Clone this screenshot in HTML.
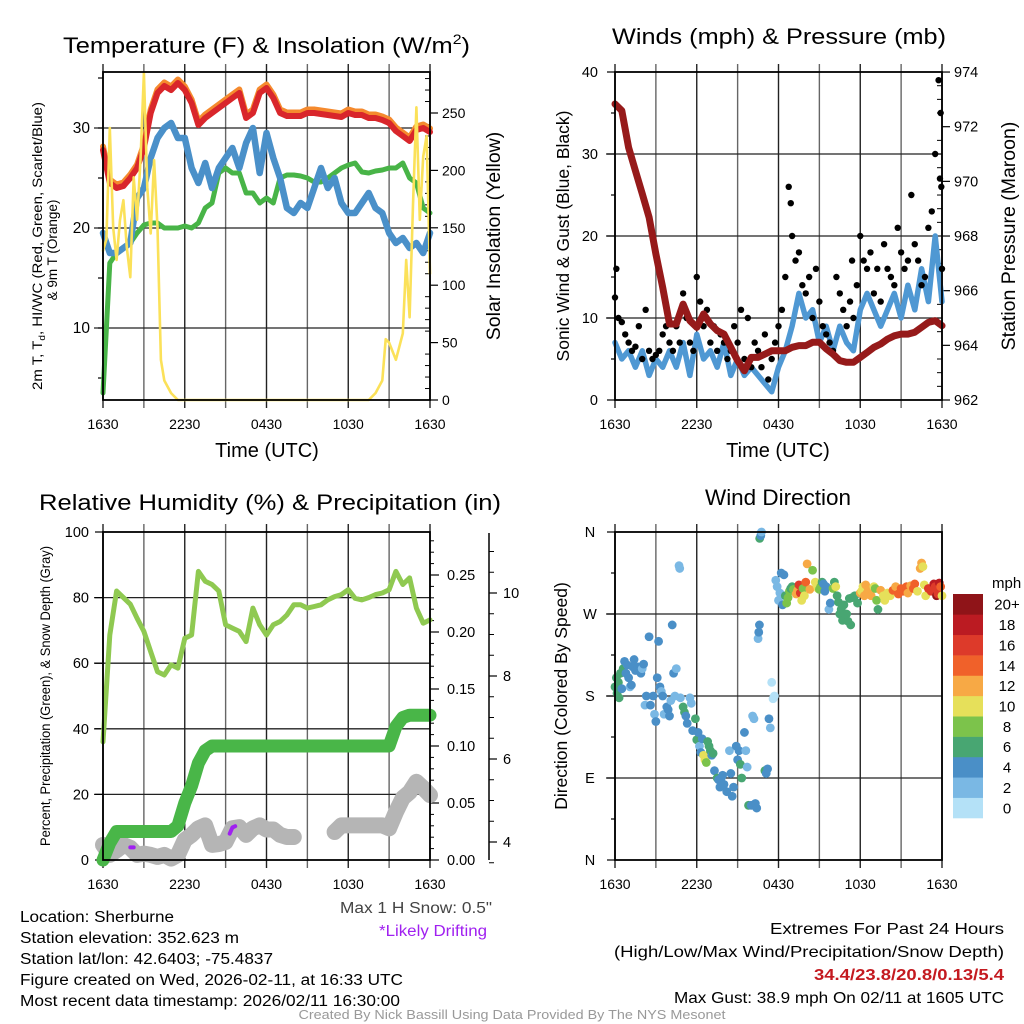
<!DOCTYPE html>
<html><head><meta charset="utf-8"><title>Mesonet Meteogram</title>
<style>
html,body{margin:0;padding:0;background:#fff;}
svg{display:block;font-family:"Liberation Sans",Arial,sans-serif;}
</style></head>
<body>
<svg id="chart" xmlns="http://www.w3.org/2000/svg" width="1024" height="1024" viewBox="0 0 1024 1024">
<rect x="0" y="0" width="1024" height="1024" fill="#fff"/>
<text x="63" y="53" font-size="22.5" text-anchor="start" textLength="407" lengthAdjust="spacingAndGlyphs">Temperature (F) &amp; Insolation (W/m<tspan font-size="14" dy="-9">2</tspan><tspan dy="9">)</tspan></text>
<text x="779" y="44" font-size="22.5" text-anchor="middle" textLength="334" lengthAdjust="spacingAndGlyphs">Winds (mph) &amp; Pressure (mb)</text>
<text x="270" y="510" font-size="22.5" text-anchor="middle" textLength="462" lengthAdjust="spacingAndGlyphs">Relative Humidity (%) &amp; Precipitation (in)</text>
<text x="778" y="505" font-size="22.5" text-anchor="middle" textLength="146" lengthAdjust="spacingAndGlyphs">Wind Direction</text>
<text x="267" y="457" font-size="20" text-anchor="middle">Time (UTC)</text>
<text x="778" y="457" font-size="20" text-anchor="middle">Time (UTC)</text>
<text transform="translate(42,246) rotate(-90)" font-size="13.5" text-anchor="middle" textLength="288" lengthAdjust="spacingAndGlyphs">2m T, T<tspan font-size="9" dy="3">d</tspan><tspan dy="-3">, HI/WC (Red, Green, Scarlet/Blue)</tspan></text>
<text transform="translate(57,250) rotate(-90)" font-size="13.5" text-anchor="middle">&amp; 9m T (Orange)</text>
<text transform="translate(500,236) rotate(-90)" font-size="19.5" text-anchor="middle">Solar Insolation (Yellow)</text>
<text transform="translate(569,236) rotate(-90)" font-size="17.5" text-anchor="middle">Sonic Wind &amp; Gust (Blue, Black)</text>
<text transform="translate(1015,236) rotate(-90)" font-size="19.5" text-anchor="middle">Station Pressure (Maroon)</text>
<text transform="translate(50,696) rotate(-90)" font-size="13.5" text-anchor="middle" textLength="300" lengthAdjust="spacingAndGlyphs">Percent, Precipitation (Green), &amp; Snow Depth (Gray)</text>
<text transform="translate(567,696) rotate(-90)" font-size="17.5" text-anchor="middle">Direction (Colored By Speed)</text>
<text x="992" y="588" font-size="15">mph</text>
<g font-size="15.5">
<text x="20" y="922" textLength="154" lengthAdjust="spacingAndGlyphs">Location: Sherburne</text>
<text x="20" y="943" textLength="219" lengthAdjust="spacingAndGlyphs">Station elevation: 352.623 m</text>
<text x="20" y="964" textLength="253" lengthAdjust="spacingAndGlyphs">Station lat/lon: 42.6403; -75.4837</text>
<text x="20" y="985" textLength="383" lengthAdjust="spacingAndGlyphs">Figure created on Wed, 2026-02-11, at 16:33 UTC</text>
<text x="20" y="1006" textLength="380" lengthAdjust="spacingAndGlyphs">Most recent data timestamp: 2026/02/11 16:30:00</text>
</g>
<text x="492" y="913" font-size="15.5" fill="#444" text-anchor="end" textLength="152" lengthAdjust="spacingAndGlyphs">Max 1 H Snow: 0.5"</text>
<text x="487" y="936" font-size="15.5" fill="#a020f0" text-anchor="end" textLength="108" lengthAdjust="spacingAndGlyphs">*Likely Drifting</text>
<g font-size="16" text-anchor="end">
<text x="1004" y="934" textLength="234" lengthAdjust="spacingAndGlyphs">Extremes For Past 24 Hours</text>
<text x="1004" y="957" textLength="390" lengthAdjust="spacingAndGlyphs">(High/Low/Max Wind/Precipitation/Snow Depth)</text>
<text x="1004" y="980" fill="#c41a20" font-weight="bold" textLength="190" lengthAdjust="spacingAndGlyphs">34.4/23.8/20.8/0.13/5.4</text>
<text x="1004" y="1003" textLength="330" lengthAdjust="spacingAndGlyphs">Max Gust: 38.9 mph On 02/11 at 1605 UTC</text>
</g>
<text x="512" y="1019" font-size="12.5" fill="#999" text-anchor="middle" textLength="427" lengthAdjust="spacingAndGlyphs">Created By Nick Bassill Using Data Provided By The NYS Mesonet</text>
</svg>
<script>
// ---------- DATA ----------
const xTickLabels = ["1630","2230","0430","1030","1630"];
const xTickHours = [0,6,12,18,24];
const tempTicks = [10,20,30];
const solarTicks = [0,50,100,150,200,250];
const windTicks = [0,10,20,30,40];
const presTicks = [962,964,966,968,970,972,974];
const rhTicks = [0,20,40,60,80,100];
const precipTicks = ["0.00","0.05","0.10","0.15","0.20","0.25"];
const snowTicks = [4,6,8,10];
const dirTickLabels = ["N","W","S","E","N"];
const dirTickDeg = [360,270,180,90,0];
const speedBinLabels = ["0","2","4","6","8","10","12","14","16","18","20+"];
const speedBinColors = ["#b4e1f7","#7ab8e4","#4a8fc7","#48a672","#7cc34b","#e6e05a","#f7a945","#f0612a","#dd3a2a","#bb1b22","#8f1418"];

const tempRed = [27.8,24.5,24,24.2,25,26,28,31.5,33.5,34.2,33.8,34.5,33.8,32.5,30.3,31,31.5,32,32.5,33,33.5,31,31.5,33.5,34,33,31.5,31.2,31.2,31.2,31.5,31.5,31.4,31.3,31.2,31.1,31.5,31.3,31.3,31,31,30.8,30.5,29.7,29.2,28.7,29.8,30,29.6];
const tempBlue = [19.5,17.5,17.5,18,18.5,23,24,27,29,30,30.5,29,29,26,24.5,26.5,24,26,27,28,26,28.5,30,25.5,29.5,27,25,22,21.5,22.5,22,24,26,24,25,22.5,21.5,21.5,22.5,23.5,22,21.5,19.5,18.5,19,18,18.5,17.5,19.5];
const tempGreen = [3.5,16.5,17.5,18,18.5,19.5,20.3,20.5,20.5,20,20,20,20.2,20,20.5,22,22.5,25.5,26,25.5,25.5,23.5,23.5,22.5,23,22.5,25,25.3,25.3,25.2,25,24.6,24.6,25,25.5,26,26.3,26.5,25.6,25.5,25.7,25.8,26,26,26.5,25,24.5,22,21.5];
const solarT = [0,0.25,0.5,0.75,1,1.25,1.5,1.75,2,2.25,2.5,2.75,3,3.25,3.5,3.75,4,4.25,4.5,5,5.5,6,19.5,20,20.5,20.75,21,21.5,22,22.25,22.5,22.75,23,23.25,23.5,23.75,24];
const solarV = [130,140,237,150,122,157,174,133,107,194,157,209,285,185,145,209,150,35,17,6,0,0,0,6,17,53,50,35,58,122,72,170,255,157,212,230,110];
const windBlue = [7,5,6,4,6,3,5,4,6,4,7,3,8,5,6,4,7,3,5,3,4,3,2,1,4,6,9,13,10,11,7,9,6,9,7,6,11,13,11,9,11,13,10,14,11,16,12,20,12];
const pressure = [972.83,972.59,971.24,970.39,969.54,968.68,967.34,966.12,964.78,964.78,965.51,964.9,964.66,965.15,964.78,964.54,964.41,963.93,963.44,963.07,963.56,963.56,963.68,963.8,963.8,963.8,963.93,963.99,963.99,964.11,964.11,963.87,963.68,963.44,963.38,963.38,963.56,963.74,963.93,964.05,964.23,964.35,964.41,964.41,964.48,964.66,964.84,964.9,964.72];
const gusts = [12.5,10,9.5,8,7,6,6.5,9,5,11,6,5,5.5,6,8,9,7,6,9,7,13,10,7,6,15,12,9,11,7,9,6,8,7,5,6,9,7,11,5,10,4,7,6,4,8,2.5,5,7,9,11,15,26,20,17,18,14,13,15,10,16,12,9,8,7,6,15,13,11,9,12,10,14,20,17,16,18,13,16,12,19,16,15,14,21,18,16,17,25,19,17,14,15,21,23,30,39,16];
const gustExtraT = [23.85,23.9,23.95,0.1,12.9,17.4];
const gustExtraV = [27,35,26,16,24,17];
const rh = [36,68.6,82,80,78,73.7,69.7,63.5,57.4,56.4,59.5,58.5,67.6,68.6,88,85,84,82,71.7,70.7,69.7,66.6,76.8,71.7,68.6,71.7,72.7,74.7,77.8,77.8,76.8,77.3,77.8,79.3,80.3,80.9,82.4,79.8,79.3,80,80.9,81.4,82.4,88,84,86,76.8,72.2,73.2];
const precip = [0,0.015,0.025,0.025,0.025,0.025,0.025,0.025,0.025,0.025,0.025,0.03,0.05,0.065,0.085,0.096,0.1,0.1,0.1,0.1,0.1,0.1,0.1,0.1,0.1,0.1,0.1,0.1,0.1,0.1,0.1,0.1,0.1,0.1,0.1,0.1,0.1,0.1,0.1,0.1,0.1,0.1,0.1,0.117,0.125,0.127,0.127,0.127,0.127];
const snow = [3.93,3.69,3.8,3.93,3.86,3.69,3.72,3.69,3.64,3.69,3.6,3.69,4.05,4.17,4.33,4.4,3.93,3.95,4.0,4.33,4.36,4.17,4.33,4.4,4.3,4.3,4.17,4.12,4.12,null,null,null,null,null,4.24,4.4,4.4,4.4,4.4,4.4,4.4,4.4,4.33,4.72,5.06,5.2,5.45,5.3,5.13];
const driftT1 = [2.0,2.25];
const driftV1 = [3.87,3.87];
const driftT2 = [9.3,9.5,9.7];
const driftV2 = [4.2,4.35,4.38];
const dirT = [0.0,0.1,0.15,0.25,0.3,0.4,0.5,0.6,0.7,0.8,0.9,1.0,1.1,1.2,1.3,1.4,1.5,1.7,1.9,2.0,2.1,2.2,2.3,2.5,2.6,2.8,2.9,3.0,3.1,3.2,3.3,3.4,3.5,3.6,3.8,3.9,4.0,4.1,4.2,4.3,4.4,4.5,4.7,4.75,4.8,5.0,5.1,5.2,5.3,5.5,5.6,5.7,5.9,6.0,6.1,6.2,6.3,6.4,6.5,6.6,6.7,6.8,6.9,7.0,7.1,7.2,7.3,7.5,7.6,7.7,7.8,7.9,8.0,8.2,8.4,8.5,8.6,8.7,8.9,9.0,9.1,9.2,9.3,9.5,9.6,9.7,9.8,10.0,10.1,10.2,10.3,10.4,10.5,10.55,10.6,10.62,10.7,10.75,11.0,11.1,11.2,11.3,11.4,11.5,11.6,11.7,11.8,11.9,12.0,12.1,12.2,12.3,12.4,12.5,12.6,12.7,12.8,12.9,13.0,13.1,13.3,13.4,13.5,13.6,13.7,13.8,13.9,14.0,14.1,14.3,14.5,14.7,14.8,14.9,15.0,15.1,15.2,15.3,15.4,15.5,15.7,15.8,16.0,16.1,16.2,16.3,16.4,16.5,16.6,16.7,16.8,16.9,17.0,17.1,17.2,17.3,17.4,17.6,17.8,18.0,18.1,18.2,18.3,18.4,18.5,18.6,18.8,19.0,19.1,19.2,19.3,19.5,19.7,19.8,20.0,20.2,20.4,20.6,20.8,21.0,21.2,21.4,21.5,21.7,21.9,22.0,22.2,22.4,22.5,22.6,22.7,22.8,23.0,23.2,23.4,23.5,23.6,23.7,23.8,23.9,24.0];
const dirDeg = [190,200,183,195,178,205,188,210,218,205,214,200,190,192,212,220,208,212,205,210,215,170,180,245,170,180,160,152,200,240,190,185,180,160,168,165,158,175,258,205,180,210,323,320,178,168,162,158,150,178,172,142,155,132,140,125,118,133,115,110,107,130,125,120,115,117,98,90,88,80,90,93,83,75,120,95,70,80,125,110,120,105,90,140,120,102,60,60,158,155,62,57,243,250,258,353,356,360,98,95,100,155,145,195,177,180,307,300,285,293,315,280,313,290,282,288,295,298,300,297,292,296,302,293,285,298,290,305,325,297,318,305,302,298,297,300,305,303,295,300,275,282,298,305,300,290,283,270,275,263,280,270,270,262,287,258,288,290,282,293,295,300,290,302,293,297,290,300,298,285,275,296,290,285,293,290,296,300,292,298,295,300,293,301,298,303,295,320,326,322,302,290,298,295,303,300,290,292,304,300,290];
const dirSpd = [7,6,7,6,6,7,5,7,5,4,4,4,3,4,4,5,4,4,4,3,4,3,4,4,4,4,3,4,4,4,4,3,4,3,4,4,4,2,4,4,2,3,2,2,3,6,6,4,4,3,2,4,6,6,4,3,4,4,10,10,8,6,7,6,4,6,4,6,4,4,4,4,4,4,2,4,4,4,4,4,4,7,6,4,3,3,6,4,3,2,4,4,3,4,4,6,4,2,7,4,4,4,2,1,1,1,2,2,2,3,4,4,4,7,8,8,8,6,7,9,13,12,16,17,10,9,10,15,12,12,8,10,11,10,9,8,6,4,4,5,3,4,8,7,10,6,6,6,6,6,6,7,6,6,7,6,6,7,6,12,10,10,13,12,12,12,12,10,8,8,7,12,10,10,11,10,14,12,14,15,14,14,13,12,15,15,10,12,12,10,10,10,17,17,18,16,20,16,18,14,10];

// ---------- HELPERS ----------
const NS="http://www.w3.org/2000/svg";
const svg=document.getElementById('chart');
function mk(tag, attrs, parent){const e=document.createElementNS(NS,tag);for(const k in attrs)e.setAttribute(k,attrs[k]);(parent||svg).appendChild(e);return e;}
function group(){return mk('g',{});}

const P1={x0:103,x1:430,y0:72,y1:400};
const P2={x0:615,x1:942,y0:72,y1:400};
const P3={x0:103,x1:430,y0:532,y1:860};
const P4={x0:615,x1:942,y0:532,y1:860};
function xs(P,h){return P.x0+(P.x1-P.x0)*h/24;}
const yTemp=v=>400-(v-2.8)*10;
const ySolar=v=>400-v*1.148;
const yWind=v=>400-v*8.2;
const yPres=v=>400-(v-962)*27.33;
const yRH=v=>860-v*3.28;
const yPrecip=v=>860-v*1140;
const ySnow=v=>842-(v-4)*41.5;
const yDir=d=>860-d/360*328;

function pathFrom(P,ts,vals,yf){let d='',pen=false;for(let i=0;i<vals.length;i++){const v=vals[i];if(v===null||v===undefined){pen=false;continue;}d+=(pen?'L':'M')+xs(P,ts[i]).toFixed(1)+','+yf(v).toFixed(1);pen=true;}return d;}
const halfHours=rh.map((_,i)=>i*0.5);

function frame(P,name){
  const g=group();
  
  
  for(let h=0;h<=24;h+=3){const x=xs(P,h);
    const l=mk('line',{x1:x,y1:P.y0-8,x2:x,y2:P.y1+8,stroke:(h%6===0)?'#222':'#666','stroke-width':1.4},g);
    
    }
  return g;
}
function hgrid(P,name,ys){const g=group();
  
  
  ys.forEach(y=>{const l=mk('line',{x1:P.x0-9,y1:y,x2:P.x1,y2:y,stroke:'#222','stroke-width':1.3},g);
    
    });}
function box(P,name){const r=mk('rect',{x:P.x0,y:P.y0,width:P.x1-P.x0,height:P.y1-P.y0,fill:'none',stroke:'#000','stroke-width':1.8});
  
  }
function xLabels(P,name){xTickHours.forEach((h,i)=>{const t=mk('text',{x:xs(P,h),y:P.y1+29,'font-size':14,'text-anchor':'middle'});t.textContent=xTickLabels[i];
  
  });}
function yLabel(x,y,txt,anchor,name,size){const t=mk('text',{x:x,y:y+5,'font-size':size||15,'text-anchor':anchor});t.textContent=txt;
  
  return t;}
function tick(x1,y1,x2,y2,name,w){const l=mk('line',{x1,y1,x2,y2,stroke:'#000','stroke-width':w||1.2});
  
  }
function line(d,color,w,name,extra){const p=mk('path',Object.assign({d:d,fill:'none',stroke:color,'stroke-width':w,'stroke-linejoin':'round','stroke-linecap':'round'},extra||{}));
  
  return p;}

// ---------- PANEL 1 ----------
frame(P1,'temp');
hgrid(P1,'temp',tempTicks.map(yTemp));
tempTicks.forEach(v=>yLabel(P1.x0-13,yTemp(v),String(v),'end','temp-y-tick-label',15.5));
for(let v=5;v<=35;v+=5){tick(P1.x0-5,yTemp(v),P1.x0,yTemp(v),'temp-minor-tick');}
solarTicks.forEach(v=>{tick(P1.x1,ySolar(v),P1.x1+8,ySolar(v),'solar-major-tick');yLabel(P1.x1+12,ySolar(v),String(v),'start','solar-y-tick-label',14);});
for(let v=0;v<=280;v+=10){if(v%50)tick(P1.x1-5,ySolar(v),P1.x1,ySolar(v),'solar-minor-tick',1);}
line(pathFrom(P1,halfHours,tempRed.map(v=>v+0.35),yTemp),'#f58a2e',6,'series-9m-temp-orange');
line(pathFrom(P1,halfHours,tempRed,yTemp),'#d9262b',6,'series-2m-temp-red');
line(pathFrom(P1,halfHours,tempGreen,yTemp),'#48b447',5,'series-dewpoint-green');
line(pathFrom(P1,halfHours,tempBlue,yTemp),'#4a90c9',6.5,'series-windchill-blue');
line(pathFrom(P1,solarT,solarV,ySolar),'#fbe159',2.6,'series-solar-yellow');
box(P1,'temp');
xLabels(P1,'temp');

// ---------- PANEL 2 ----------
frame(P2,'wind');
hgrid(P2,'wind',[10,20,30].map(yWind));
windTicks.forEach(v=>{tick(P2.x0-8,yWind(v),P2.x0,yWind(v),'wind-major-tick');yLabel(P2.x0-17,yWind(v),String(v),'end','wind-y-tick-label',14.5);});
for(let v=5;v<40;v+=10)tick(P2.x0-4,yWind(v),P2.x0,yWind(v),'wind-minor-tick');
presTicks.forEach(v=>{tick(P2.x1,yPres(v),P2.x1+8,yPres(v),'pressure-major-tick');yLabel(P2.x1+12,yPres(v),String(v),'start','pressure-y-tick-label',14.5);});
for(let v=962.5;v<974;v+=0.5){if((v*2)%4)tick(P2.x1-5,yPres(v),P2.x1,yPres(v),'pressure-minor-tick',1);}
line(pathFrom(P2,halfHours,windBlue,yWind),'#4f98d3',5.5,'series-sonic-wind-blue');
{const g=group();
 
 
 gusts.forEach((v,i)=>{const c=mk('circle',{cx:xs(P2,i*0.25),cy:yWind(v),r:3.2,fill:'#000'},g);
  
  });
 gustExtraT.forEach((t,i)=>{const c=mk('circle',{cx:xs(P2,t),cy:yWind(gustExtraV[i]),r:3.2,fill:'#000'},g);
  
  });}
line(pathFrom(P2,halfHours,pressure,yPres),'#961a1a',7,'series-pressure-maroon');
box(P2,'wind');
xLabels(P2,'wind');

// ---------- PANEL 3 ----------
frame(P3,'rh');
hgrid(P3,'rh',[20,40,60,80].map(yRH));
rhTicks.forEach(v=>{tick(P3.x0-8,yRH(v),P3.x0,yRH(v),'rh-major-tick');yLabel(P3.x0-14,yRH(v),String(v),'end','rh-y-tick-label',14.5);});
precipTicks.forEach(s=>{const v=parseFloat(s);tick(P3.x1,yPrecip(v),P3.x1+9,yPrecip(v),'precip-major-tick');yLabel(P3.x1+17,yPrecip(v),s,'start','precip-y-tick-label',14.5);});
for(let k=1;k<29;k++){if(k%5)tick(P3.x1,yPrecip(k*0.01),P3.x1+4,yPrecip(k*0.01),'precip-minor-tick',1);}
tick(489,533,489,860,'snow-axis-line',1.5);
snowTicks.forEach(v=>{tick(489,ySnow(v),497,ySnow(v),'snow-major-tick');yLabel(503,ySnow(v),String(v),'start','snow-y-tick-label',14.5);});
for(let v=3.5;v<=11.4;v+=0.5){if(v%2)tick(489,ySnow(v),494,ySnow(v),'snow-minor-tick',1);}
line(pathFrom(P3,halfHours,snow,ySnow),'#b5b5b5',16,'series-snow-depth-gray');
line(pathFrom(P3,driftT1,driftV1,ySnow),'#a020f0',4,'series-drifting-purple-1');
line(pathFrom(P3,driftT2,driftV2,ySnow),'#a020f0',4,'series-drifting-purple-2');
line(pathFrom(P3,halfHours,precip,yPrecip),'#49b648',13,'series-precip-green');
line(pathFrom(P3,halfHours,rh,yRH),'#8fc951',5,'series-rh-green');
box(P3,'rh');
xLabels(P3,'rh');

// ---------- PANEL 4 ----------
frame(P4,'dir');
hgrid(P4,'dir',[270,180,90].map(yDir));
dirTickDeg.forEach((d,i)=>{tick(P4.x0-8,yDir(d),P4.x0,yDir(d),'dir-major-tick');yLabel(590,yDir(d),dirTickLabels[i],'middle','dir-y-tick-label',14.5);});
[315,225,135,45].forEach(d=>tick(P4.x0-4,yDir(d),P4.x0,yDir(d),'dir-minor-tick'));
function spdColor(s){return speedBinColors[Math.min(10,Math.floor(s/2))];}
{const g=group();
 
 
 dirT.forEach((t,i)=>{const c=mk('circle',{cx:xs(P4,t),cy:yDir(dirDeg[i]),r:4.4,fill:spdColor(dirSpd[i])},g);
  
  });}
box(P4,'dir');
xLabels(P4,'dir');

const cbTop=594, cbH=224/11;
speedBinColors.forEach((c,i)=>{const k=10-i;
  const r=mk('rect',{x:953,y:cbTop+k*cbH,width:30,height:cbH+0.3,fill:c});
  
  
  const t=mk('text',{x:1007,y:cbTop+k*cbH+cbH/2+5.5,'font-size':15,'text-anchor':'middle'});
  t.textContent=speedBinLabels[i];
  
  });
</script>
</body></html>
